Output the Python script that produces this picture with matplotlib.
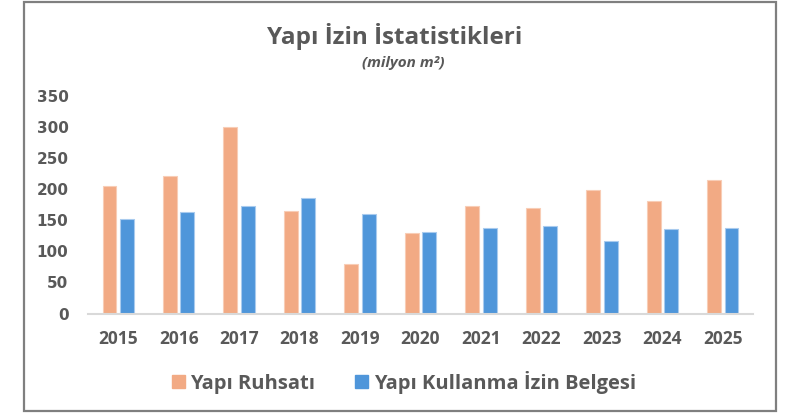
import matplotlib.pyplot as plt
import matplotlib.patches as mpatches
import numpy as np

# Data (milyon m2)
years = ['2015', '2016', '2017', '2018', '2019', '2020', '2021', '2022', '2023', '2024', '2025']
ruhsat = [205, 220, 300, 165, 80, 129, 173, 169, 199, 180, 214]
iskan = [152, 163, 172, 186, 159, 131, 138, 140, 116, 136, 138]

orange = '#F2AA84'
blue = '#4F96DA'
text_gray = '#595959'

fig = plt.figure(figsize=(7.9, 4.17), dpi=100, facecolor='white')
ax = fig.add_axes([88 / 790, 1 - 313.5 / 417, (753 - 88) / 790, (313.5 - 95.5) / 417])

x = np.arange(len(years))
w = 0.23
off = 0.145
ax.bar(x - off, ruhsat, w, color=orange, edgecolor='#F8CDB6', linewidth=0.8, label='Yapı Ruhsatı')
ax.bar(x + off, iskan, w, color=blue, edgecolor='#A9CBEE', linewidth=0.8, label='Yapı Kullanma İzin Belgesi')

ax.set_xlim(-0.5, len(years) - 0.5)
ax.set_ylim(0, 350)
ax.set_yticks(np.arange(0, 351, 50))
ax.set_xticks(x)
ax.set_xticklabels(years)

for s in ['top', 'right', 'left']:
    ax.spines[s].set_visible(False)
ax.spines['bottom'].set_color('#D9D9D9')
ax.spines['bottom'].set_linewidth(1.5)

ax.tick_params(axis='y', length=0, pad=14, labelsize=11, labelcolor=text_gray)
ax.tick_params(axis='x', length=0, pad=12, labelsize=12.5, labelcolor=text_gray)
for lbl in ax.get_yticklabels():
    lbl.set_fontweight('bold')
    lbl.set_family('DejaVu Sans')
for lbl in ax.get_xticklabels():
    lbl.set_fontweight('bold')
    lbl.set_family('Open Sans')

# Title and subtitle
fig.text(0.5, 1 - 36 / 417, 'Yapı İzin İstatistikleri', ha='center', va='center',
         fontsize=17.5, fontweight='bold', color=text_gray, family='Open Sans')
fig.text(0.511, 1 - 63 / 417, '(milyon m²)', ha='center', va='center',
         fontsize=11, fontweight='bold', style='italic', color=text_gray, family='Open Sans')

# Legend
handles = [mpatches.Patch(color=orange, label='Yapı Ruhsatı'),
           mpatches.Patch(color=blue, label='Yapı Kullanma İzin Belgesi')]
leg = fig.legend(handles=handles, loc='center', bbox_to_anchor=(0.511, 1 - 382 / 417),
                 ncol=2, frameon=False, handlelength=0.65, handleheight=0.65,
                 handletextpad=0.26, columnspacing=2.0, borderpad=0, borderaxespad=0,
                 prop={'family': 'Open Sans', 'weight': 'bold', 'size': 14.5})
for t in leg.get_texts():
    t.set_color(text_gray)

# Outer border
border = mpatches.Rectangle((24 / 790, 1 - 411 / 417), (776 - 24) / 790, (411 - 2) / 417,
                            transform=fig.transFigure, fill=False, edgecolor='#7F7F7F',
                            linewidth=1.6)
fig.patches.append(border)

plt.savefig('out.png', dpi=100, facecolor='white')
